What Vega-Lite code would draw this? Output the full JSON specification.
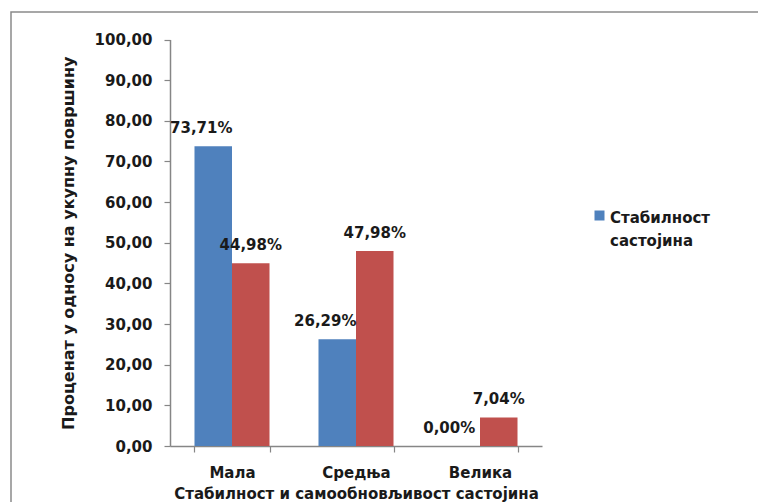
{
  "$schema": "https://vega.github.io/schema/vega-lite/v6.json",
  "width": 760,
  "height": 500,
  "autosize": {"type": "none"},
  "padding": {"left": 11, "top": 12, "right": 0, "bottom": 0},
  "background": "white",
  "config": {
    "view": {"stroke": "#8a8a8a", "strokeWidth": 1.5},
    "font": "DejaVu Sans",
    "axis": {
      "grid": false,
      "domainColor": "#868686",
      "domainWidth": 1.5,
      "tickColor": "#868686",
      "tickWidth": 1.2,
      "tickSize": 6,
      "labelFont": "DejaVu Sans",
      "labelFontSize": 15,
      "labelFontWeight": "bold",
      "labelColor": "#1a1a1a",
      "titleFont": "DejaVu Sans",
      "titleFontSize": 15,
      "titleFontWeight": "bold",
      "titleColor": "#1a1a1a"
    }
  },
  "data": {
    "values": [
      {"klasa": "Мала", "serija": "Стабилност састојина", "vrednost": 73.71},
      {"klasa": "Мала", "serija": "Самообновљивост састојина", "vrednost": 44.98},
      {"klasa": "Средња", "serija": "Стабилност састојина", "vrednost": 26.29},
      {"klasa": "Средња", "serija": "Самообновљивост састојина", "vrednost": 47.98},
      {"klasa": "Велика", "serija": "Стабилност састојина", "vrednost": 0.0},
      {"klasa": "Велика", "serija": "Самообновљивост састојина", "vrednost": 7.04}
    ]
  },
  "transform": [
    {"calculate": "replace(format(datum.vrednost, '.2f'), '.', ',') + '%'", "as": "oznaka"}
  ],
  "encoding": {
    "x": {
      "field": "klasa",
      "type": "nominal",
      "sort": ["Мала", "Средња", "Велика"],
      "scale": {"range": [159, 531], "paddingInner": 0.395, "paddingOuter": 0.1975},
      "axis": {
        "orient": "bottom",
        "offset": -66,
        "tickBand": "extent",
        "labelAngle": 0,
        "labelPadding": 13,
        "titlePadding": 6
      },
      "title": "Стабилност и самообновљивост састојина"
    },
    "xOffset": {
      "field": "serija",
      "type": "nominal",
      "sort": ["Стабилност састојина", "Самообновљивост састојина"],
      "scale": {"paddingInner": 0, "paddingOuter": 0}
    },
    "y": {
      "field": "vrednost",
      "type": "quantitative",
      "scale": {"domain": [0, 100], "range": [434, 27.5], "nice": false, "zero": true},
      "axis": {
        "orient": "left",
        "offset": -159,
        "values": [0, 10, 20, 30, 40, 50, 60, 70, 80, 90, 100],
        "labelExpr": "replace(format(datum.value, '.2f'), '.', ',')",
        "labelPadding": 12,
        "titleFontSize": 16,
        "titlePadding": 18
      },
      "title": "Проценат у односу на укупну површину"
    }
  },
  "layer": [
    {
      "mark": {"type": "bar"},
      "encoding": {
        "color": {
          "field": "serija",
          "type": "nominal",
          "scale": {
            "domain": ["Стабилност састојина", "Самообновљивост састојина"],
            "range": ["#4F81BD", "#C0504D"]
          },
          "legend": {
            "orient": "none",
            "legendX": 581,
            "legendY": 196,
            "values": ["Стабилност састојина"],
            "title": null,
            "padding": 0,
            "symbolType": "square",
            "symbolSize": 100,
            "symbolStrokeWidth": 0,
            "labelFont": "DejaVu Sans",
            "labelFontSize": 15,
            "labelFontWeight": "bold",
            "labelColor": "#1a1a1a",
            "labelOffset": 3,
            "labelLimit": 0,
            "labelExpr": "split(datum.label, ' ')",
            "labelBaseline": "top",
            "encoding": {
              "labels": {"lineHeight": {"value": 23}, "dy": {"value": -5}}
            }
          }
        }
      }
    },
    {
      "transform": [{"filter": "datum.serija === 'Стабилност састојина'"}],
      "mark": {"type": "text", "dy": -18, "dx": -12, "baseline": "middle", "align": "center", "fontSize": 15, "fontWeight": "bold", "color": "#1a1a1a"},
      "encoding": {"text": {"field": "oznaka", "type": "nominal"}}
    },
    {
      "transform": [{"filter": "datum.serija === 'Самообновљивост састојина'"}],
      "mark": {"type": "text", "dy": -18, "dx": 0, "baseline": "middle", "align": "center", "fontSize": 15, "fontWeight": "bold", "color": "#1a1a1a"},
      "encoding": {"text": {"field": "oznaka", "type": "nominal"}}
    }
  ]
}
